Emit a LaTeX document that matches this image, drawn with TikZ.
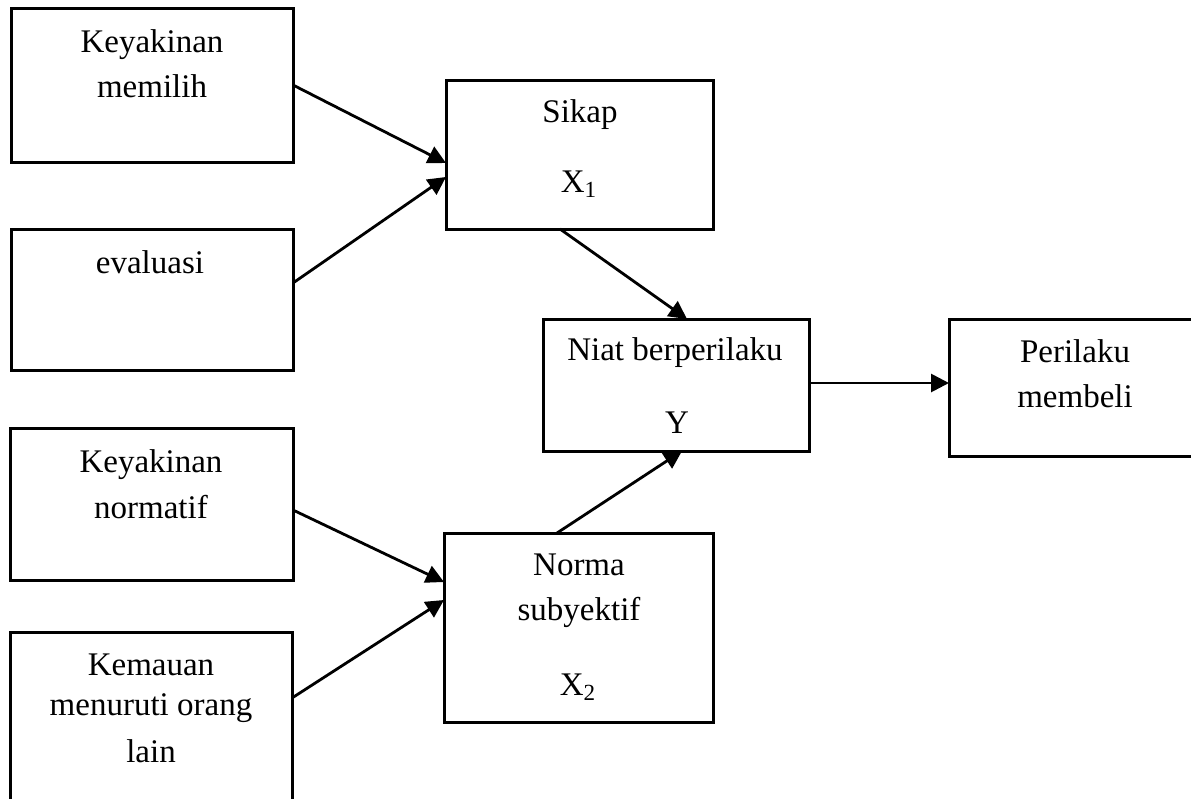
\documentclass[tikz,border=0pt]{standalone}
\usepackage{fontspec}
\setmainfont{Liberation Serif}
\usetikzlibrary{arrows.meta}
\tikzset{
  box/.style={draw=black, line width=1.5pt, rectangle, inner sep=0pt, outer sep=0pt},
  txt/.style={anchor=base, inner sep=0pt, font=\fontsize{16.5}{20}\selectfont},
  conn/.style={line width=1.4pt, -{Triangle[length=9pt,width=9pt]}}
}
\begin{document}
\begin{tikzpicture}[x=0.5pt,y=-0.5pt]
\useasboundingbox (0,0) rectangle (1191,799);
\fill[white] (0,0) rectangle (1191,799);
\clip (0,0) rectangle (1191,799);

% boxes
\node[box, minimum width=141pt, minimum height=77pt]   (b1) at (152,85) {};
\node[box, minimum width=141pt, minimum height=70.5pt] (b2) at (152,299.5) {};
\node[box, minimum width=141.5pt, minimum height=76pt] (b3) at (151.5,504) {};
\node[box, minimum width=141pt, minimum height=89pt]   (b4) at (151,721) {};
\node[box, minimum width=133.5pt, minimum height=74.5pt] (sikap) at (579.5,154.5) {};
\node[box, minimum width=133pt, minimum height=66pt]   (niat) at (676,385) {};
\node[box, minimum width=126pt, minimum height=68.5pt] (perilaku) at (1075,387.5) {};
\node[box, minimum width=134.5pt, minimum height=94.5pt] (norma) at (578.5,627.5) {};

% texts
\node[txt] (t1a) at (152,52) {Keyakinan};
\node[txt] (t1b) at (152,97) {memilih};
\node[txt] (t2a) at (150,273) {evaluasi};
\node[txt] (t3a) at (151,472) {Keyakinan};
\node[txt] (t3b) at (151,518) {normatif};
\node[txt] (t4a) at (151,675) {Kemauan};
\node[txt] (t4b) at (151,715) {menuruti orang};
\node[txt] (t4c) at (151,762) {lain};
\node[txt] (tsa) at (580,122) {Sikap};
\node[txt] (tsb) at (579,192) {X\textsubscript{1}};
\node[txt] (tna) at (675,360) {Niat berperilaku};
\node[txt] (tnb) at (677,433) {Y};
\node[txt] (tpa) at (1075,362) {Perilaku};
\node[txt] (tpb) at (1075,407) {membeli};
\node[txt] (tma) at (579,575) {Norma};
\node[txt] (tmb) at (579,620) {subyektif};
\node[txt] (tmc) at (578,695) {X\textsubscript{2}};

% connectors
\draw[conn] (b1.east) -- ([yshift=-4.25pt]sikap.west);
\draw[conn] ([yshift=8.25pt]b2.east) -- ([yshift=-11.25pt]sikap.west);
\draw[conn] ([xshift=-9.75pt]sikap.south) -- ([xshift=5.5pt]niat.north);
\draw[conn] ([yshift=1pt]niat.east) -- ([yshift=1pt]niat.east -| perilaku.west);
\draw[conn] ([xshift=-10.75pt]norma.north) -- ([xshift=3pt]niat.south);
\draw[conn] ([yshift=-3pt]b3.east) -- ([yshift=22.75pt]norma.west);
\draw[conn] ([yshift=11.5pt]b4.east) -- ([yshift=13.75pt]norma.west);
\end{tikzpicture}
\end{document}
